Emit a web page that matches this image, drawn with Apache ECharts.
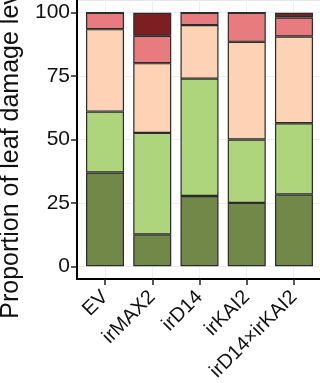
<!DOCTYPE html>
<html>
<head>
<meta charset="utf-8">
<script src="https://cdn.jsdelivr.net/npm/echarts@6/dist/echarts.min.js"></script>
<style>
  html, body { margin: 0; padding: 0; background: #fff; }
  #chart { width: 320px; height: 383px; }
</style>
</head>
<body>
<div id="chart"></div>
<script>
// genotypes and damage level shares (%)
const categories = ['EV', 'irMAX2', 'irD14', 'irKAI2', 'irD14×irKAI2']
const level1 = [37.0, 12.6, 27.7, 25.0, 28.3]
const level2 = [24.0, 40.0, 46.3, 25.0, 28.1]
const level3 = [32.5, 27.5, 21.1, 38.5, 34.2]
const level4 = [6.5, 10.8, 4.9, 11.5, 7.5]
const level5 = [0, 9.1, 0, 0, 1.9]
const yTicks = [0, 25, 50, 75, 100]
const xGridLines = [1, 2, 3, 4, 5]

const levels = [
  { name: 'Level 1', data: level1, color: '#718848' },
  { name: 'Level 2', data: level2, color: '#afd57c' },
  { name: 'Level 3', data: level3, color: '#fed2b4' },
  { name: 'Level 4', data: level4, color: '#e87b7e' },
  { name: 'Level 5', data: level5, color: '#7b1f22' }
]

const font = 'Liberation Sans, Arial, sans-serif'
const chart = echarts.init(document.getElementById('chart'))

const option = {
  animation: false,
  grid: [
    // panel frame (ggplot style, 0.6 band padding each side)
    { left: 77, right: -2, top: 0, bottom: 104, show: true, borderColor: '#d0d0d0', borderWidth: 1, outerBoundsMode: 'none' },
    // bars
    { left: 81.4, right: 2.4, top: 0, bottom: 104, outerBoundsMode: 'none' }
  ],
  xAxis: [
    {
      gridIndex: 0,
      type: 'value',
      min: 0.4,
      max: 5.6,
      axisLine: { onZero: false, lineStyle: { color: '#000', width: 2 } },
      axisTick: { show: false, customValues: xGridLines },
      axisLabel: { show: false },
      splitLine: { show: true, lineStyle: { color: '#efefef', width: 1 } }
    },
    {
      gridIndex: 1,
      type: 'category',
      data: categories,
      axisLine: { show: false, onZero: false },
      axisTick: { show: true, alignWithLabel: true, length: 6, lineStyle: { color: '#222', width: 1.5 } },
      axisLabel: {
        interval: 0,
        rotate: 45,
        margin: 15,
        color: '#111',
        fontSize: 20,
        fontFamily: font
      },
      splitLine: { show: false }
    }
  ],
  yAxis: [
    {
      gridIndex: 0,
      type: 'value',
      min: -5,
      max: 105,
      name: 'Proportion of leaf damage levels',
      nameLocation: 'middle',
      nameGap: 40,
      nameTextStyle: { color: '#111', fontSize: 25, fontFamily: font },
      axisLine: { show: true, lineStyle: { color: '#000', width: 2 } },
      axisTick: { show: true, customValues: yTicks, length: 6, lineStyle: { color: '#222', width: 1.5 } },
      axisLabel: { customValues: yTicks, margin: 7, color: '#111', fontSize: 21, fontFamily: font },
      splitLine: { show: true, lineStyle: { color: '#efefef', width: 1 } }
    },
    { gridIndex: 1, type: 'value', min: -5, max: 105, show: false }
  ],
  series: levels.map(l => ({
    name: l.name,
    type: 'bar',
    stack: 'total',
    xAxisIndex: 1,
    yAxisIndex: 1,
    barWidth: 38,
    data: l.data,
    itemStyle: { color: l.color, borderColor: '#2b2b2b', borderWidth: 1.2 }
  }))
}

chart.setOption(option)
</script>
</body>
</html>
